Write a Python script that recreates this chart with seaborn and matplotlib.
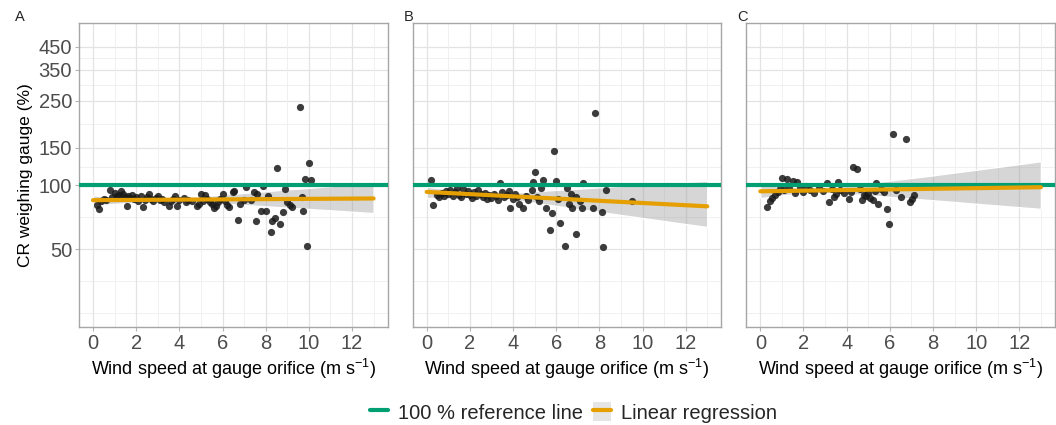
import matplotlib.pyplot as plt
from matplotlib.lines import Line2D
from matplotlib.patches import Patch
import numpy as np
import pandas as pd
import seaborn as sns

# catch ratio of the CR weighing gauge (%) against wind speed (m/s), per panel
wind_a = [0.2, 0.3, 0.35, 0.5, 0.6, 0.8, 0.9, 1.0, 1.1, 1.2, 1.3, 1.4, 1.5, 1.56, 1.6, 1.7, 1.8, 1.9,
          2.0, 2.1, 2.2, 2.3, 2.4, 2.5, 2.6, 2.7, 2.8, 2.9, 3.0, 3.1, 3.2, 3.3, 3.5, 3.6, 3.7, 3.8,
          3.9, 4.0, 4.2, 4.3, 4.4, 4.6, 4.8, 4.9, 5.0, 5.1, 5.2, 5.3, 5.4, 5.5, 5.6, 5.7, 5.8, 5.9,
          6.0, 6.1, 6.2, 6.3, 6.5, 6.55, 6.7, 6.8, 7.0, 7.1, 7.3, 7.45, 7.54, 7.6, 7.8, 7.86, 8.0,
          8.1, 8.24, 8.3, 8.43, 8.51, 8.64, 8.82, 8.9, 9.0, 9.13, 9.2, 9.57, 9.7, 9.72, 9.8, 9.9,
          10.0, 10.1]
ratio_a = [81, 77, 84, 86, 85, 95, 88, 92, 89, 90, 94, 91, 88, 80, 89, 87, 90, 86,
           88, 84, 89, 79, 85, 88, 91, 86, 84, 87, 89, 85, 86, 83, 80, 84, 86, 89,
           80, 85, 87, 83, 85, 84, 80, 82, 91, 84, 90, 86, 83, 82, 78, 80, 83, 86,
           91, 84, 81, 79, 93, 94, 69, 82, 85, 98, 85, 93, 68, 91, 75.5, 99, 76,
           89, 60, 68, 70, 120, 66, 75, 96, 83, 81, 79, 233, 88, 76, 107, 52,
           127, 106]

wind_b = [0.22, 0.3, 0.5, 0.56, 0.7, 0.8, 0.9, 1.0, 1.1, 1.2, 1.3, 1.4, 1.5, 1.6, 1.7, 1.8, 1.9,
          2.0, 2.1, 2.2, 2.3, 2.4, 2.5, 2.6, 2.7, 2.8, 2.9, 3.0, 3.1, 3.2, 3.3, 3.39, 3.5, 3.6,
          3.7, 3.8, 3.88, 4.0, 4.1, 4.2, 4.3, 4.45, 4.6, 4.7, 4.88, 4.92, 5.03, 5.1, 5.2, 5.3,
          5.41, 5.52, 5.7, 5.79, 5.89, 5.99, 6.1, 6.16, 6.39, 6.48, 6.6, 6.67, 6.75, 6.9, 6.94,
          7.1, 7.2, 7.23, 7.72, 7.81, 8.1, 8.17, 8.32, 9.5]
ratio_b = [106, 81, 90, 88, 92, 89, 94, 91, 95, 89, 93, 97, 90, 88, 96, 91, 94,
           90, 87, 93, 89, 95, 91, 88, 92, 86, 90, 87, 91, 89, 85, 102, 93, 88,
           90, 94, 78, 86, 91, 88, 82, 78, 89, 85, 95, 104, 116, 88, 84, 97,
           106, 78, 61.6, 74, 144.5, 104.6, 86, 66.7, 52, 97, 82, 90.7, 78, 88, 59,
           84, 78, 102, 78, 219, 75, 51, 95, 84]

wind_c = [0.31, 0.43, 0.54, 0.7, 0.8, 0.9, 1.0, 1.1, 1.23, 1.35, 1.5, 1.6, 1.72, 1.85, 2.0, 2.1,
          2.3, 2.5, 2.7, 2.9, 3.1, 3.18, 3.3, 3.4, 3.5, 3.6, 3.7, 3.9, 4.1, 4.2, 4.3, 4.48, 4.6,
          4.7, 4.8, 4.9, 5.0, 5.1, 5.22, 5.3, 5.38, 5.45, 5.6, 5.75, 5.87, 5.98, 6.16, 6.3, 6.5,
          6.77, 6.94, 7.03, 7.13]
ratio_c = [79, 84, 87, 90, 93, 96, 108.6, 95, 107, 97, 105, 92, 104, 98, 93, 99,
           95, 92, 97, 94, 102, 83, 96, 88, 91, 104, 95, 92, 86, 93, 121.5, 119.5, 96,
           85, 90, 89, 92, 87, 85, 94, 103, 82, 96, 93, 77.6, 66, 174, 95, 88,
           165, 83, 86, 90]

panel_tags = ["A", "B", "C"]
y_breaks = [50, 100, 150, 250, 350, 450]
x_breaks = [0, 2, 4, 6, 8, 10, 12]
reference_level = 100

green = "#009E73"
orange = "#E69F00"

sns.set_style("white")
plt.rcParams["font.family"] = ["Liberation Sans", "DejaVu Sans"]
plt.rcParams["mathtext.default"] = "regular"

fig, axes = plt.subplots(1, 3, figsize=(10.56, 4.25), dpi=100)
fig.subplots_adjust(left=0.0748, right=0.999, bottom=0.2306, top=0.9459, wspace=0.081)

# log10 scale done by hand so the regression is fitted on log(y) like ggplot does
log_min, log_max = np.log10(25), np.log10(500)
pad = 0.05 * (log_max - log_min)
minor_y = [25, np.sqrt(25 * 50), np.sqrt(50 * 100), np.sqrt(100 * 150), np.sqrt(150 * 250),
           np.sqrt(250 * 350), np.sqrt(350 * 450)]

panels = [(wind_a, ratio_a), (wind_b, ratio_b), (wind_c, ratio_c)]
for i, (ax, (wind, ratio)) in enumerate(zip(axes, panels)):
    df = pd.DataFrame({"wind": wind, "log_ratio": np.log10(ratio)})

    # grid first
    for v in minor_y:
        ax.axhline(np.log10(v), color="#EEEEEE", lw=0.6, zorder=0)
    for v in y_breaks:
        ax.axhline(np.log10(v), color="#E3E3E3", lw=0.9, zorder=0)
    for v in range(1, 14, 2):
        ax.axvline(v, color="#EEEEEE", lw=0.6, zorder=0)
    for v in x_breaks:
        ax.axvline(v, color="#E3E3E3", lw=0.9, zorder=0)

    sns.scatterplot(data=df, x="wind", y="log_ratio", ax=ax, color="#1a1a1a", alpha=0.85,
                    s=27, linewidth=0, zorder=3)

    ax.axhline(np.log10(reference_level), color=green, lw=3, zorder=4)

    # regression over the full 0-13 range
    ax.set_xlim(0, 13)
    sns.regplot(data=df, x="wind", y="log_ratio", ax=ax, scatter=False, truncate=False,
                color=orange, n_boot=2000, seed=1, line_kws={"lw": 3, "zorder": 5})
    band = ax.collections[-1]
    band.set_alpha(None)
    band.set_facecolor((0.6, 0.6, 0.6, 0.4))
    band.set_zorder(2)

    ax.set_xlim(-0.65, 13.65)
    ax.set_ylim(log_min - pad, log_max + pad)
    ax.set_xticks(x_breaks)
    ax.set_yticks(np.log10(y_breaks))
    if i == 0:
        ax.set_yticklabels([str(v) for v in y_breaks])
        ax.set_ylabel("CR weighing gauge (%)", fontsize=12.5, color="black")
    else:
        ax.set_yticklabels([])
        ax.set_ylabel("")
    ax.set_xlabel("Wind speed at gauge orifice (m s$^{-1}$)", fontsize=13, color="black",
                  labelpad=3)
    ax.tick_params(axis="both", which="major", length=3, width=0.8, color="#B3B3B3",
                   labelsize=14.5, labelcolor="#4D4D4D", pad=2)
    ax.tick_params(left=True, bottom=True)
    if i > 0:
        ax.tick_params(axis="y", length=0)
    for sp in ax.spines.values():
        sp.set_color("#A6A6A6")
        sp.set_linewidth(1.0)
    ax.text(-0.208 if i == 0 else -0.03, 0.998, panel_tags[i], transform=ax.transAxes,
            fontsize=10.5, ha="left", va="bottom")
    ax.grid(False)

handles = [Line2D([], [], color=green, lw=3),
           (Patch(facecolor=(0.6, 0.6, 0.6, 0.25), edgecolor="none"), Line2D([], [], color=orange, lw=3))]
fig.legend(handles, ["100 % reference line", "Linear regression"], loc="center",
           bbox_to_anchor=(0.543, 0.03), ncol=2, frameon=False, fontsize=14.5,
           handlelength=0.9, handleheight=1.1, columnspacing=0.5, handletextpad=0.5)

fig.savefig("out.png", dpi=100)
